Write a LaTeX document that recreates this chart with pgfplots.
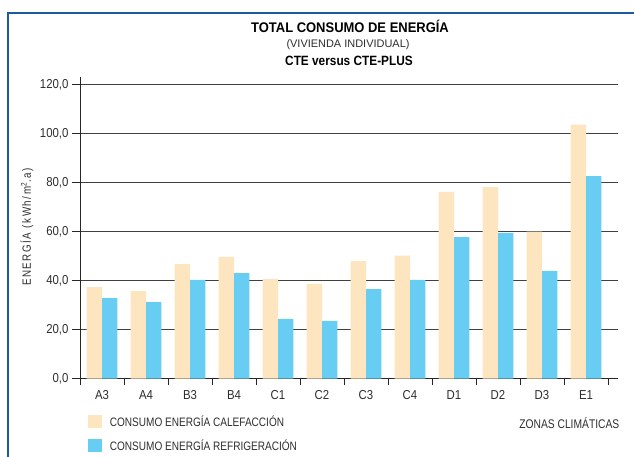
\documentclass[border=0pt]{standalone}
\usepackage{fontspec}
\setmainfont{Liberation Sans}[FakeStretch=0.82]
\newfontfamily\subfont{Liberation Sans}
\newfontfamily\titfont{Liberation Sans}[FakeStretch=0.93]
\newfontfamily\tickfont{Liberation Sans}[FakeStretch=0.88]
\usepackage{pgfplots}
\pgfplotsset{compat=1.18}
\definecolor{beige}{RGB}{253,230,191}
\definecolor{sky}{RGB}{103,205,243}
\definecolor{frameblue}{RGB}{30,90,160}
\definecolor{txt}{RGB}{45,45,45}
\pgfplotstableread{
x cal ref
0 37.4 32.9
1 35.8 31.3
2 46.8 40.3
3 49.7 43.1
4 40.7 24.4
5 38.7 23.6
6 48.0 36.6
7 50.2 40.3
8 76.3 57.8
9 78.2 59.5
10 60.0 44.0
11 103.7 82.7
}\datatable
\begin{document}
\begin{tikzpicture}[x=1bp,y=1bp]
\useasboundingbox (0,0) rectangle (634,457);
\draw[frameblue, line width=2bp] (8,-2) -- (8,444) -- (640,444);
\node[anchor=base, text=black] at (350,424) {\titfont\bfseries\fontsize{14}{16}\selectfont TOTAL CONSUMO DE ENERGÍA};
\node[anchor=base, text=txt] at (348,409.7) {\subfont\fontsize{11}{13}\selectfont (VIVIENDA INDIVIDUAL)};
\node[anchor=base, text=black] at (349,391) {\tickfont\bfseries\fontsize{13.5}{15}\selectfont CTE versus CTE-PLUS};
\node[rotate=90, text=txt] at (27,230) {\fontsize{12}{14}\selectfont\addfontfeature{LetterSpace=13}ENERGÍA (kWh/m\textsuperscript{2}.a)};
\begin{axis}[
  at={(80bp,78.3bp)}, anchor=south west,
  scale only axis, width=537.7bp, height=302bp,
  xmin=-0.5, xmax=11.72, ymin=0, ymax=123.3,
  axis x line*=bottom, axis y line*=left,
  axis line style={-, line width=1bp, color=black!85},
  ybar=0pt, bar width=15.3bp,
  xtick={0,...,11},
  xticklabels={A3,A4,B3,B4,C1,C2,C3,C4,D1,D2,D3,E1},
  minor xtick={-0.5,0.5,...,11.5},
  major x tick style={draw=none},
  minor x tick style={black!85, line width=1bp},
  tick align=outside,
  minor tick length=6.5bp, major tick length=8bp,
  ytick={0,20,...,120},
  y tick style={black!85, line width=1bp},
  ymajorgrids, grid style={black!75, line width=1bp},
  yticklabel style={/pgf/number format/.cd, fixed, fixed zerofill, precision=1, use comma, assume math mode=true},
  tick label style={font=\tickfont\fontsize{13}{15}\selectfont, text=txt},
  xlabel={ZONAS CLIMÁTICAS},
  xlabel style={at={(axis description cs:0.91,-0.146)}, anchor=center, font=\fontsize{12.6}{14}\selectfont, text=txt},
  legend style={at={(axis description cs:0.0136,-0.115)}, anchor=north west, draw=none, fill=none, inner sep=0pt, row sep=8bp, font=\fontsize{12.3}{14}\selectfont, text=txt, legend cell align=left, /tikz/every odd column/.append style={column sep=6bp}},
  legend image code/.code={\fill[#1] (0bp,-6.3bp) rectangle (14.4bp,6.3bp);},
]
\addplot[fill=beige, draw=none] table[x=x, y=cal] {\datatable};
\addplot[fill=sky, draw=none] table[x=x, y=ref] {\datatable};
\legend{CONSUMO ENERGÍA CALEFACCIÓN, CONSUMO ENERGÍA REFRIGERACIÓN}
\end{axis}
\end{tikzpicture}
\end{document}
